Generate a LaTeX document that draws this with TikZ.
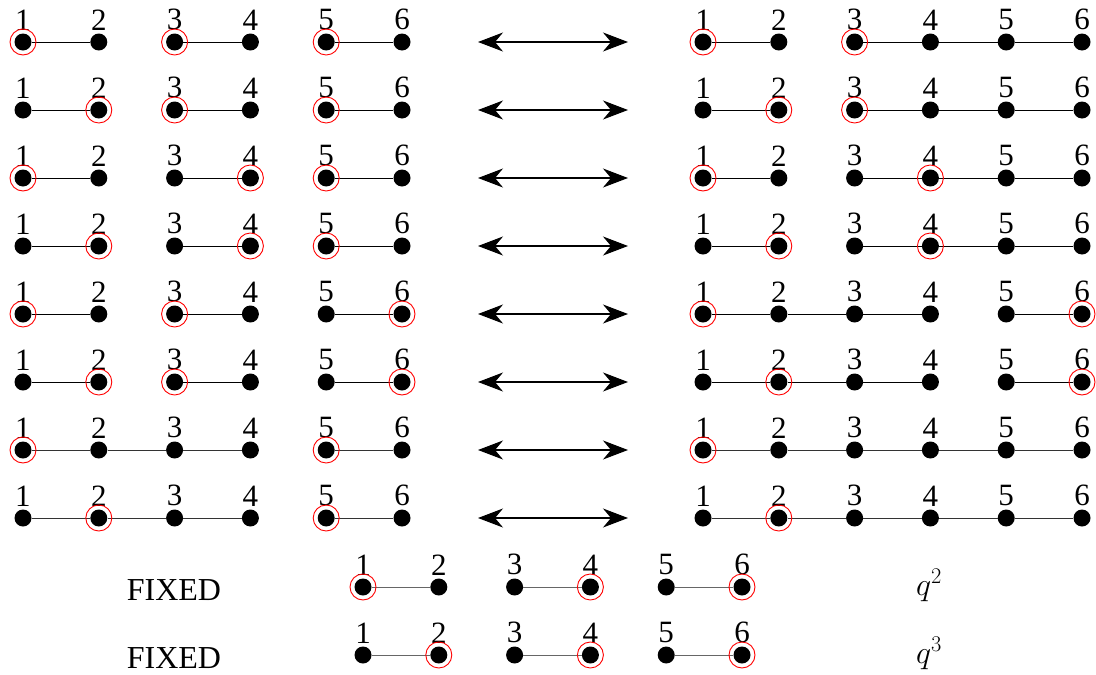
\RequirePackage{fix-cm}
\documentclass[tikz,border=0pt]{standalone}
\usepackage{fontspec}
\setmainfont{Liberation Serif}
\usetikzlibrary{arrows.meta}
\tikzset{
  dot/.style={circle,fill=black,inner sep=0pt,minimum size=17pt},
  lab/.style={inner sep=0pt,font=\fontsize{31}{32}\selectfont},
  edge/.style={line width=1pt},
  ring/.style={circle,draw=red,line width=0.9pt,inner sep=0pt,minimum size=26pt},
  dbl/.style={line width=1.1pt,{Stealth[length=25pt,width=19pt,inset=8pt]}-{Stealth[length=25pt,width=19pt,inset=8pt]}},
  txt/.style={inner sep=0pt,font=\fontsize{32}{34}\selectfont,anchor=base},
  qtxt/.style={inner sep=0pt,font=\fontsize{32}{34}\selectfont,anchor=base}
}
\newcommand{\halfrow}[6]{%
  \foreach \i in {1,...,6} {\node[dot,label={[lab,label distance=3pt]above:\i}] (#1-\i) at ({#2+(\i-1)*75.8},#3) {};}
  \foreach \a/\b in {#4} {\draw[edge,#6] (#1-\a) -- (#1-\b);}
  \foreach \r in {#5} {\node[ring] (#1-r\r) at (#1-\r) {};}
}
\begin{document}
\begin{tikzpicture}[x=1pt,y=-1pt]
\useasboundingbox (0,0) rectangle (1096,675);
% row 1
\halfrow{L1}{23}{42}{1/2,3/4,5/6}{1,3,5}{black}
\halfrow{R1}{703}{42}{1/2,3/4,4/5,5/6}{1,3}{black}
% row 2
\halfrow{L2}{23}{110}{1/2,3/4,5/6}{2,3,5}{black}
\halfrow{R2}{703}{110}{1/2,3/4,4/5,5/6}{2,3}{black}
% row 3
\halfrow{L3}{23}{178}{1/2,3/4,5/6}{1,4,5}{black}
\halfrow{R3}{703}{178}{1/2,3/4,4/5,5/6}{1,4}{black}
% row 4
\halfrow{L4}{23}{246}{1/2,3/4,5/6}{2,4,5}{black}
\halfrow{R4}{703}{246}{1/2,3/4,4/5,5/6}{2,4}{black}
% row 5
\halfrow{L5}{23}{314}{1/2,3/4,5/6}{1,3,6}{black}
\halfrow{R5}{703}{314}{1/2,2/3,3/4,5/6}{1,6}{black}
% row 6
\halfrow{L6}{23}{382}{1/2,3/4,5/6}{2,3,6}{black}
\halfrow{R6}{703}{382}{1/2,2/3,3/4,5/6}{2,6}{black}
% row 7
\halfrow{L7}{23}{450}{1/2,2/3,3/4,5/6}{1,5}{black!80}
\halfrow{R7}{703}{450}{1/2,2/3,3/4,4/5,5/6}{1}{black!80}
% row 8
\halfrow{L8}{23}{518}{1/2,2/3,3/4,5/6}{2,5}{black!80}
\halfrow{R8}{703}{518}{1/2,2/3,3/4,4/5,5/6}{2}{black!80}
% arrows
\foreach \r/\y in {1/42,2/110,3/178,4/246,5/314,6/382,7/450,8/518} {
  \coordinate (aL\r) at (478,\y);
  \coordinate (aR\r) at (628,\y);
  \draw[dbl] (aL\r) -- (aR\r);
}
% fixed rows
\node[txt] (fix1) at (174,600) {FIXED};
\halfrow{F1}{363}{587}{1/2,3/4,5/6}{1,4,6}{black!60}
\node[qtxt] (q1) at (929,595) {$q^2$};
\node[txt] (fix2) at (174,668) {FIXED};
\halfrow{F2}{363}{655}{1/2,3/4,5/6}{2,4,6}{black!60}
\node[qtxt] (q2) at (929,663) {$q^3$};
\end{tikzpicture}
\end{document}
